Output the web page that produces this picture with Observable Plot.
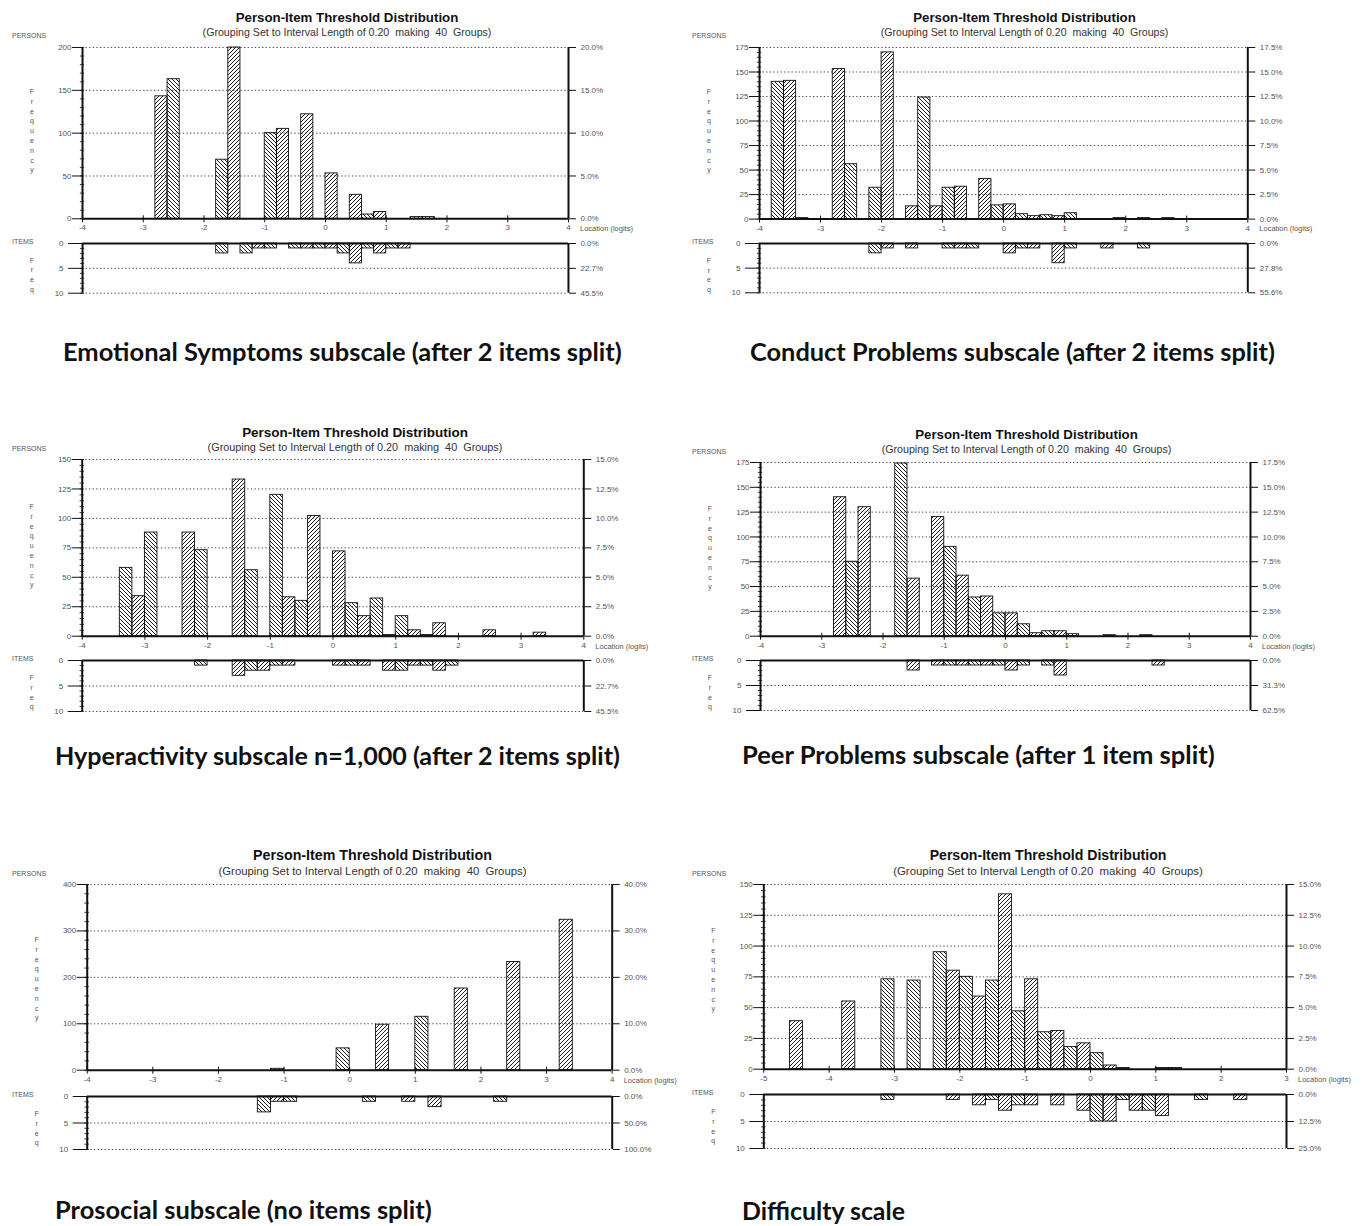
<!DOCTYPE html>
<html><head><meta charset="utf-8">
<script src="https://cdn.jsdelivr.net/npm/d3@7"></script>
<script src="https://cdn.jsdelivr.net/npm/@observablehq/plot@0.6"></script>
<style>
body{margin:0;background:#fff;}
#page{position:relative;width:1363px;height:1226px;overflow:hidden;background:#fff;}
.col{position:absolute;top:0;height:1226px;}
.col svg{position:absolute;left:0;}
</style></head><body>
<svg width="0" height="0" style="position:absolute">
<defs>
<pattern id="hatchF" patternUnits="userSpaceOnUse" width="4" height="4">
<path d="M-1,1 l2,-2 M0,4 l4,-4 M3,5 l2,-2" stroke="#1a1a1a" stroke-width="1"/>
</pattern>
<pattern id="hatchB" patternUnits="userSpaceOnUse" width="4" height="4">
<path d="M-1,3 l2,2 M0,0 l4,4 M3,-1 l2,2" stroke="#1a1a1a" stroke-width="1"/>
</pattern>
</defs></svg>
<div id="page"></div>
<script>
// ---------------- data (40 groups of 0.20 logits each) ----------------
const binWidth = 0.2;
const emotionalPersons  = [0,0,0,0,0,0,143,163,0,0, 0,69,200,0,0,100,105,0,122,0, 53,0,28,5,8,0,0,2,2,0, 0,0,0,0,0,0,0,0,0,0];
const emotionalItems    = [0,0,0,0,0,0,0,0,0,0, 0,2,0,2,1,1,0,1,1,1, 1,2,4,1,2,1,1,0,0,0, 0,0,0,0,0,0,0,0,0,0];
const conductPersons    = [0,140,141,1,0,0,153,56,0,32, 170,0,13,124,13,32,33,0,41,14, 15,5,3,4,3,6,0,0,0,1, 0,1,0,1,0,0,0,0,0,0];
const conductItems      = [0,0,0,0,0,0,0,0,0,2, 1,0,1,0,0,1,1,1,0,0, 2,1,1,0,4,1,0,0,1,0, 0,1,0,0,0,0,0,0,0,0];
const hyperPersons      = [0,0,0,58,34,88,0,0,88,73, 0,0,133,56,0,120,33,30,102,0, 72,28,17,32,1,17,5,1,11,0, 0,0,5,0,0,0,3,0,0,0];
const hyperItems        = [0,0,0,0,0,0,0,0,0,1, 0,0,3,2,2,1,1,0,0,0, 1,1,1,0,2,2,1,1,2,1, 0,0,0,0,0,0,0,0,0,0];
const peerPersons       = [0,0,0,0,0,0,140,75,130,0, 0,174,58,0,120,90,61,39,40,23, 23,12,3,5,5,2,0,0,1,0, 0,1,0,0,0,0,0,0,0,0];
const peerItems         = [0,0,0,0,0,0,0,0,0,0, 0,0,2,0,1,1,1,1,1,1, 2,1,0,1,3,0,0,0,0,0, 0,0,1,0,0,0,0,0,0,0];
const prosocialPersons  = [0,0,0,0,0,0,0,0,0,0, 0,0,0,0,3,0,0,0,0,47, 0,0,98,0,0,115,0,0,176,0, 0,0,233,0,0,0,324,0,0,0];
const prosocialItems    = [0,0,0,0,0,0,0,0,0,0, 0,0,0,3,1,1,0,0,0,0, 0,1,0,0,1,0,2,0,0,0, 0,1,0,0,0,0,0,0,0,0];
const difficultyPersons = [0,0,39,0,0,0,55,0,0,73, 0,72,0,95,80,75,59,72,142,47, 73,30,31,18,21,13,3,1,0,0, 1,1,0,0,0,0,0,0,0,0];
const difficultyItems   = [0,0,0,0,0,0,0,0,0,1, 0,0,0,0,1,0,2,1,3,2, 2,0,2,0,3,5,5,1,3,3, 4,0,0,1,0,0,1,0,0,0];
const domainStarts = [-4, -4, -4, -4, -4, -5];
const personMax = [200, 175, 150, 175, 400, 150];
const personStep = [50, 25, 25, 25, 100, 25];
const personN = 1000;
const itemN = [22, 18, 22, 16, 10, 40];
const captions = [
  "Emotional Symptoms subscale (after 2 items split)",
  "Conduct Problems subscale (after 2 items split)",
  "Hyperactivity subscale n=1,000 (after 2 items split)",
  "Peer Problems subscale (after 1 item split)",
  "Prosocial subscale (no items split)",
  "Difficulty scale"
];
const titleText = "Person-Item Threshold Distribution";
const subtitleText = "(Grouping Set to Interval Length of 0.20  making  40  Groups)";

// ---------------- layout ----------------
const layout = [
 {colX:0,   colW:683, xL:82,    xR:568,    yTop:46.7,  yZero:218,   i0:242.6, i10:292.3, minor:10, titleX:347,   titleY:18,    subY:32,    titleW:223, subW:289, freqTop:92,  capX:63,  capY:352,  capW:559},
 {colX:680, colW:683, xL:759,   xR:1247.3, yTop:46.7,  yZero:218.3, i0:242.7, i10:292,   minor:5,  titleX:1024.5,titleY:18,    subY:32,    titleW:223, subW:288, freqTop:92,  capX:750, capY:352,  capW:525},
 {colX:0,   colW:683, xL:81.7,  xR:583.3,  yTop:459.3, yZero:636,   i0:660,   i10:711,   minor:5,  titleX:355,   titleY:432.5, subY:446.5, titleW:226, subW:295, freqTop:507, capX:55,  capY:755,  capW:565},
 {colX:680, colW:683, xL:760,   xR:1250,   yTop:462.3, yZero:636,   i0:660,   i10:710,   minor:5,  titleX:1026.5,titleY:434.5, subY:449,   titleW:223, subW:290, freqTop:509, capX:742, capY:755,  capW:473},
 {colX:0,   colW:683, xL:86.7,  xR:611.7,  yTop:884.3, yZero:1070,  i0:1096,  i10:1149,  minor:20, titleX:372.5, titleY:855,   subY:871.5, titleW:239, subW:308, freqTop:940, capX:55,  capY:1210, capW:377},
 {colX:680, colW:683, xL:763.3, xR:1286,   yTop:884.3, yZero:1069,  i0:1094,  i10:1148,  minor:5,  titleX:1048,  titleY:855,   subY:871.5, titleW:237, subW:310, freqTop:931, capX:742, capY:1210, capW:163}
];
const personsData = [emotionalPersons, conductPersons, hyperPersons, peerPersons, prosocialPersons, difficultyPersons];
const itemsData = [emotionalItems, conductItems, hyperItems, peerItems, prosocialItems, difficultyItems];

const page = document.getElementById("page");
const AXF = "Liberation Sans, Arial, sans-serif";

function addText(parent, txt, o) {
  const s = document.createElement("div");
  s.textContent = txt;
  s.style.cssText = `position:absolute;white-space:pre;line-height:1.15;left:${o.x}px;top:${o.y}px;font-size:${o.size}px;font-family:${o.family||AXF};font-weight:${o.weight||400};color:${o.color||"#555"};`;
  s.style.transform = o.anchor === "middle" ? "translate(-50%,-50%)" : "translate(0,-50%)";
  parent.appendChild(s);
  if (o.fitWidth) {
    const w = s.getBoundingClientRect().width;
    s.style.fontSize = (o.size * o.fitWidth / w) + "px";
  }
  return s;
}
function addVertical(parent, letters, x, yFirst, step) {
  letters.forEach((ch, k) => addText(parent, ch, {x, y: yFirst + k * step, size: 7, anchor: "middle", color: "#555"}));
}

function hatchMarks(rows) {
  return [
    Plot.rectY(rows.filter(d => d.i % 2 === 0), {x1: "a", x2: "b", y: "v", fill: "url(#hatchF)", stroke: "#111", strokeWidth: 0.9, inset: 0}),
    Plot.rectY(rows.filter(d => d.i % 2 === 1), {x1: "a", x2: "b", y: "v", fill: "url(#hatchB)", stroke: "#111", strokeWidth: 0.9, inset: 0})
  ];
}

layout.forEach((c, p) => {
  const col = document.createElement("div");
  col.className = "col";
  col.style.left = c.colX + "px";
  col.style.width = c.colW + "px";
  page.appendChild(col);
  const X = v => v - c.colX;

  const x0 = domainStarts[p], x1 = x0 + 8;
  const rows = arr => d3.range(40).filter(i => arr[i] > 0).map(i => ({i, a: x0 + i * binWidth, b: x0 + (i + 1) * binWidth, v: arr[i]}));
  const P = rows(personsData[p]), I = rows(itemsData[p]);
  const yMax = personMax[p];
  const majors = d3.range(0, yMax + 0.001, personStep[p]);
  const minors = d3.range(0, yMax + 0.001, c.minor);
  const xt = d3.range(x0, x1 + 0.001, 1);
  const ml = c.xL - c.colX, mr = c.colX + c.colW - c.xR;
  const style = {fontFamily: AXF, fontSize: "8px", color: "#111", background: "transparent", overflow: "visible", maxWidth: "none"};
  const dotted = {stroke: "#444", strokeWidth: 1, strokeDasharray: "1.3,2.3"};

  const mt = 8, mb = 24;
  const top = Plot.plot({
    width: c.colW, height: (c.yZero - c.yTop) + mt + mb,
    marginLeft: ml, marginRight: mr, marginTop: mt, marginBottom: mb,
    style,
    x: {domain: [x0, x1], label: null},
    y: {domain: [0, yMax], label: null},
    marks: [
      Plot.ruleY(majors.filter(t => t > 0), dotted),
      ...hatchMarks(P),
      Plot.ruleY(minors, {x1: x0 - 0.035, x2: x0 + 0.035, stroke: "#111", strokeWidth: 0.8}),
      Plot.ruleX([x0, x1], {y1: 0, y2: yMax, stroke: "#111", strokeWidth: 2}),
      Plot.ruleY([0], {stroke: "#111", strokeWidth: 2}),
      Plot.ruleX(xt, {y1: 0, y2: yMax * 3 / (c.yZero - c.yTop), stroke: "#111"}),
      Plot.axisY({ticks: majors, tickSize: 10, tickPadding: 1, tickFormat: d => String(d), stroke: "#111", fill: "#555", label: null}),
      Plot.axisY({anchor: "right", ticks: majors, tickSize: 7, tickPadding: 5, tickFormat: d => (d / personN * 100).toFixed(1) + "%", stroke: "#111", fill: "#555", label: null}),
      Plot.axisX({ticks: xt, tickSize: 4, tickPadding: 2, tickFormat: d => String(d), stroke: "#111", fill: "#555", label: null})
    ]
  });
  top.style.top = (c.yTop - mt) + "px";
  col.appendChild(top);

  const it = 6, ib = 6;
  const bottom = Plot.plot({
    width: c.colW, height: (c.i10 - c.i0) + it + ib,
    marginLeft: ml, marginRight: mr, marginTop: it, marginBottom: ib,
    style,
    x: {domain: [x0, x1], axis: null, label: null},
    y: {domain: [0, 10], reverse: true, label: null},
    marks: [
      Plot.ruleY([5, 10], dotted),
      ...hatchMarks(I),
      Plot.ruleY(d3.range(0, 11), {x1: x0 - 0.035, x2: x0 + 0.035, stroke: "#111", strokeWidth: 0.8}),
      Plot.ruleX([x0, x1], {y1: 0, y2: 10, stroke: "#111", strokeWidth: 2}),
      Plot.ruleY([0], {stroke: "#111", strokeWidth: 2}),
      Plot.axisY({ticks: [0, 5, 10], tickSize: 14, tickPadding: 5, tickFormat: d => String(d), stroke: "#111", fill: "#555", label: null}),
      Plot.axisY({anchor: "right", ticks: [0, 5, 10], tickSize: 7, tickPadding: 5, tickFormat: d => (d / itemN[p] * 100).toFixed(1) + "%", stroke: "#111", fill: "#555", label: null})
    ]
  });
  bottom.style.top = (c.i0 - it) + "px";
  col.appendChild(bottom);

  // texts
  addText(col, titleText, {x: X(c.titleX), y: c.titleY, size: 11.5, weight: 700, color: "#111", anchor: "middle", fitWidth: c.titleW});
  addText(col, subtitleText, {x: X(c.titleX), y: c.subY, size: 9.3, color: "#333", anchor: "middle", fitWidth: c.subW});
  addText(col, "PERSONS", {x: 12, y: c.yTop - 10.5, size: 7, color: "#555"});
  addVertical(col, ["F","r","e","q","u","e","n","c","y"], X(c.xL) - 50, c.freqTop, 9.8);
  addText(col, "ITEMS", {x: 12, y: c.i0 - 1, size: 7, color: "#555"});
  addVertical(col, ["F","r","e","q"], X(c.xL) - 50, c.i0 + 18, 9.8);
  addText(col, "Location (logits)", {x: X(c.xR) + 12, y: c.yZero + 11, size: 7.5, color: "#555"});
  addText(col, captions[p], {x: X(c.capX), y: c.capY, size: 21, weight: 700, family: "Lato, sans-serif", color: "#111", fitWidth: c.capW});
});
</script>
</body></html>
